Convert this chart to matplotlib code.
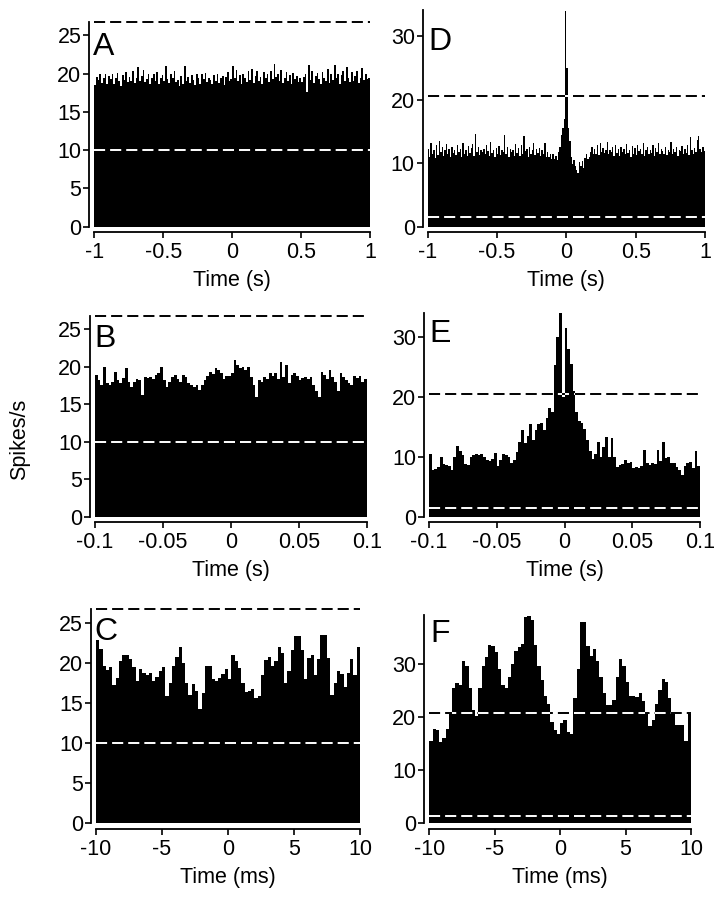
import numpy as np
import matplotlib
matplotlib.use("Agg")
import matplotlib.pyplot as plt

plt.rcParams['font.family'] = ['Liberation Sans', 'DejaVu Sans']
plt.rcParams['lines.scale_dashes'] = False

# ---------------- data ----------------
# Panel A: -1..1 s
a_range = (-1.0, 1.0)
a_vals = [18.5, 19.6, 19.2, 20.0, 18.8, 19.4, 19.9, 18.6, 19.7, 19.3,
          19.9, 18.7, 19.5, 20.1, 19.0, 18.4, 19.8, 19.2, 20.2, 18.9,
          19.6, 19.1, 20.3, 18.8, 19.4, 20.9, 19.0, 19.7, 20.5, 18.9,
          19.3, 20.0, 18.6, 19.5, 19.9, 19.1, 20.2, 18.7, 19.4, 19.8,
          19.0, 21.0, 19.3, 18.8, 19.9, 19.5, 20.3, 18.9, 19.2, 18.4,
          19.7, 18.6, 21.0, 19.1, 19.6, 18.8, 19.8, 19.2, 18.5, 19.9,
          19.4, 18.7, 19.9, 19.3, 20.1, 18.9, 19.5, 19.2, 18.6, 19.8,
          19.1, 20.0, 18.8, 19.4, 19.7, 18.5, 19.6, 20.2, 19.0, 19.3,
          21.0, 19.4, 20.5, 19.0, 19.8, 18.6, 20.0, 19.5, 18.9, 20.4,
          19.2, 20.6, 18.8, 19.7, 20.3, 19.0, 19.6, 18.7, 20.2, 19.4,
          19.9, 18.9, 20.4, 19.3, 21.3, 19.6, 20.0, 19.1, 20.5, 18.8,
          19.5, 20.2, 19.0, 19.8, 18.7, 20.1, 19.3, 19.7, 18.9, 19.4,
          18.9, 19.6, 20.0, 17.6, 21.2, 19.2, 20.4, 18.8, 19.7, 20.1,
          19.3, 18.6, 20.2, 19.5, 19.0, 20.6, 18.8, 19.9, 19.2, 21.1,
          19.4, 20.0, 18.7, 19.8, 20.3, 19.1, 20.9, 19.5, 18.9, 20.2,
          19.0, 19.7, 20.4, 18.8, 19.5, 20.8, 19.2, 19.9, 19.3, 19.5]

# Panel B: -0.1..0.1 s
b_range = (-0.1, 0.1)
b_vals = [18.9, 18.2, 17.5, 19.9, 17.8, 17.6, 18.0, 19.3, 18.2, 17.8,
          18.5, 19.8, 18.0, 17.3, 18.0, 18.4, 18.2, 16.2, 18.6, 18.5,
          18.6, 18.3, 18.9, 19.2, 20.0, 18.2, 17.3, 18.0, 18.6, 18.9,
          18.4, 18.0, 18.9, 18.6, 17.8, 17.6, 17.3, 17.6, 16.9, 17.5,
          18.2, 18.8, 19.3, 19.0, 19.8, 19.6, 19.1, 18.4, 18.7, 18.7,
          19.1, 20.9, 20.2, 19.8, 20.0, 19.6, 20.0, 18.6, 17.5, 16.0,
          18.2, 18.0, 18.6, 18.3, 19.1, 18.7, 19.1, 18.4, 20.6, 18.6,
          20.2, 17.8, 18.9, 19.1, 18.8, 18.2, 18.5, 18.6, 18.3, 18.6,
          17.6, 16.7, 16.0, 19.3, 18.9, 18.4, 19.5, 18.6, 18.0, 16.7,
          19.1, 18.6, 18.2, 17.8, 17.6, 18.7, 18.5, 18.8, 18.0, 18.3]

# Panel C: -10..10 ms
c_range = (-10.0, 10.0)
c_vals = [22.9, 21.8, 19.7, 19.2, 19.5, 17.3, 18.2, 20.3, 21.1, 21.0,
          20.6, 19.5, 17.8, 19.3, 18.8, 18.5, 18.8, 17.8, 18.3, 19.0,
          19.5, 15.9, 17.5, 19.6, 20.8, 22.1, 20.0, 17.5, 16.0, 17.4,
          16.5, 14.3, 16.3, 19.6, 19.6, 18.0, 17.8, 18.2, 18.6, 19.3,
          18.0, 21.0, 20.3, 19.4, 17.5, 16.4, 16.5, 16.8, 15.7, 15.9,
          18.5, 20.4, 20.8, 19.7, 20.3, 22.0, 21.3, 17.5, 19.0, 21.7,
          23.4, 23.4, 21.7, 18.0, 20.7, 21.0, 18.5, 20.5, 23.5, 23.5,
          20.7, 16.0, 17.5, 19.0, 18.7, 17.0, 18.8, 20.5, 18.5, 22.0]

# Panel D: -1..1 s
d_range = (-1.0, 1.0)
d_vals = [12.3, 11.0, 13.2, 11.5, 12.0, 10.8, 12.8, 11.3, 13.5, 11.8,
          12.5, 11.1, 12.0, 13.0, 11.4, 12.2, 10.9, 12.6, 11.6, 12.1,
          11.3, 12.8, 11.7, 12.3, 11.0, 13.1, 11.5, 12.0, 11.2, 12.7,
          11.6, 12.4, 13.0, 11.1, 14.6, 11.8, 12.5, 11.3, 12.1, 11.7,
          12.2, 11.4, 12.9, 11.9, 11.2, 13.3, 11.6, 12.0, 10.9, 12.4,
          11.5, 12.7, 11.3, 12.1, 11.8, 14.4, 11.4, 12.6, 11.0, 12.3,
          11.7, 12.0, 11.2, 13.0, 11.6, 12.4, 11.1, 12.8, 11.5, 14.2,
          11.9, 12.3, 11.0, 12.6, 11.4, 12.0, 13.1, 11.3, 12.2, 11.6,
          12.4, 11.2, 12.0, 11.5, 13.2, 11.0, 11.8, 10.9, 11.5, 10.7,
          11.4, 10.6, 11.2, 10.5, 11.8, 12.5, 14.5, 15.6, 17.0, 34.0,
          25.0, 15.5, 13.5, 11.0, 9.8, 10.5, 9.6, 9.0, 8.4, 10.2,
          9.5, 10.3, 9.2, 10.8, 11.4, 10.6, 11.0, 11.8, 12.5, 11.5,
          12.2, 11.5, 12.8, 11.3, 13.2, 11.8, 12.4, 11.6, 12.1, 13.3,
          11.4, 12.0, 11.7, 12.5, 11.2, 12.9, 11.6, 12.2, 11.1, 12.6,
          11.8, 12.3, 11.4, 13.0, 11.6, 12.1, 11.0, 12.7, 11.5, 12.4,
          11.3, 12.8, 11.9, 12.2, 11.5, 13.2, 11.2, 12.0, 12.6, 11.4,
          12.1, 11.6, 12.9, 11.2, 12.4, 11.8, 13.1, 11.5, 12.2, 11.9,
          11.5, 12.6, 11.3, 12.0, 11.8, 13.4, 11.4, 12.3, 11.7, 12.5,
          11.2, 12.1, 11.9, 12.7, 11.4, 12.2, 11.6, 12.8, 11.3, 14.1,
          12.0, 11.5, 12.4, 11.7, 13.6, 14.2, 12.2, 11.8, 12.6, 11.9]

# Panel E: -0.1..0.1 s
e_range = (-0.1, 0.1)
e_vals = [10.5, 7.8, 8.0, 8.3, 10.0, 8.8, 8.6, 8.4, 7.8, 10.0,
          11.8, 11.0, 10.3, 8.8, 8.6, 10.0, 10.3, 10.5, 10.3, 10.4,
          10.0, 9.4, 9.3, 9.6, 10.7, 8.5, 9.5, 10.5, 10.3, 10.0,
          9.0, 9.4, 10.8, 12.5, 14.4, 12.3, 13.5, 15.4, 12.8, 14.4,
          15.5, 15.6, 14.5, 16.5, 18.1, 17.5, 25.3, 30.0, 34.0, 20.0,
          31.4, 28.0, 25.5, 21.0, 17.5, 16.0, 15.6, 14.7, 12.8, 11.0,
          9.6, 10.5, 12.5, 10.0, 11.7, 13.3, 10.0, 13.2, 10.0, 8.3,
          8.6, 8.8, 9.4, 8.9, 9.2, 8.1, 8.3, 8.1, 8.4, 11.1,
          8.9, 8.7, 8.9, 8.8, 11.1, 9.3, 12.5, 9.8, 10.0, 9.0,
          8.9, 8.3, 7.8, 6.9, 8.5, 8.9, 9.2, 8.1, 11.0, 8.5]

# Panel F: -10..10 ms
f_range = (-10.0, 10.0)
f_vals = [15.5, 17.8, 17.5, 15.3, 16.0, 17.8, 20.5, 25.5, 26.4, 26.0,
          30.5, 29.5, 25.5, 21.3, 20.1, 25.5, 29.5, 31.3, 33.5, 33.3,
          32.2, 29.0, 26.0, 25.4, 27.5, 30.0, 32.5, 33.2, 33.8, 38.8,
          39.0, 38.3, 33.5, 29.5, 27.0, 24.0, 22.5, 19.0, 17.5, 16.8,
          18.8, 19.5, 17.2, 16.8, 23.5, 29.0, 37.8, 37.8, 33.3, 31.4,
          32.8, 30.5, 27.5, 24.5, 22.3, 22.3, 23.2, 27.5, 31.0, 29.5,
          26.5, 24.0, 23.9, 23.7, 24.5, 23.0, 20.5, 18.2, 19.5, 22.5,
          25.0, 27.2, 26.5, 23.5, 20.5, 18.5, 18.5, 18.5, 15.4, 20.5]

# significance lines (upper black, lower white) per panel
left_upper = 26.75
left_lower = 10.0
right_upper = [20.5, 20.5, 20.7]
right_lower = [1.5, 1.5, 1.4]

s_ticks = [-1, -0.5, 0, 0.5, 1]
s_ticklabels = ['-1', '-0.5', '0', '0.5', '1']
b_ticks = [-0.1, -0.05, 0, 0.05, 0.1]
b_ticklabels = ['-0.1', '-0.05', '0', '0.05', '0.1']
m_ticks = [-10, -5, 0, 5, 10]
m_ticklabels = ['-10', '-5', '0', '5', '10']
left_yticks = [0, 5, 10, 15, 20, 25]
right_yticks = [0, 10, 20, 30]

# ---------------- figure ----------------
W, H = 725, 899
fig = plt.figure(figsize=(W / 100, H / 100), dpi=100)


def px_axes(x0, x1, y0, y1):
    """x0,x1 data left/right px; y0 = px of y=0, y1 = px of ylim top"""
    return fig.add_axes([x0 / W, 1 - y0 / H, (x1 - x0) / W, (y0 - y1) / H])


DASH = (8.0, 3.6)
FS = 15.5


def panel(ax, vals, xr, ylim, yticks, xticks, xticklabels, xlabel,
          upper, lower, letter, letter_px):
    n = len(vals)
    edges = np.linspace(xr[0], xr[1], n + 1)
    patch = ax.stairs(vals, edges, fill=True, color='black', baseline=0,
                      zorder=2, linewidth=0)
    # upper line: black outside bars, white inside
    ax.plot(xr, [upper, upper], color='black', lw=1.4, dashes=DASH,
            zorder=1, clip_on=False)
    wl, = ax.plot(xr, [upper, upper], color='white', lw=1.4, dashes=DASH,
                  zorder=3)
    wl.set_clip_path(patch)
    wl2, = ax.plot(xr, [lower, lower], color='white', lw=1.4, dashes=DASH,
                   zorder=3)
    wl2.set_clip_path(patch)

    ax.set_xlim(xr)
    ax.set_ylim(ylim)
    ax.set_yticks(yticks)
    ax.set_yticklabels([str(t) for t in yticks])
    ax.set_xticks(xticks)
    ax.set_xticklabels(xticklabels)
    for s in ['top', 'right']:
        ax.spines[s].set_visible(False)
    ax.spines['left'].set_position(('outward', 3.5))
    ax.spines['bottom'].set_position(('outward', 4))
    for s in ['left', 'bottom']:
        ax.spines[s].set_linewidth(1.3)
    ax.tick_params(axis='both', direction='out', length=4.3, width=1.2,
                   labelsize=FS, pad=1.5)
    ax.tick_params(axis='x', pad=3)
    ax.set_xlabel(xlabel, fontsize=FS, labelpad=5)
    fig.text(letter_px[0] / W, 1 - letter_px[1] / H, letter, fontsize=23,
             va='baseline', ha='left')


axA = px_axes(94.3, 370, 226.7, 21.7)
axB = px_axes(95, 366.7, 516.7, 315.7)
axC = px_axes(96, 360, 823, 609)
axD = px_axes(427.7, 705, 226.7, 10)
axE = px_axes(429, 700, 516.7, 312.7)
axF = px_axes(429.3, 691, 823, 615)

panel(axA, a_vals, a_range, (0, 26.8), left_yticks, s_ticks, s_ticklabels,
      'Time (s)', left_upper, left_lower, 'A', (93, 55))
panel(axB, b_vals, b_range, (0, 26.8), left_yticks, b_ticks, b_ticklabels,
      'Time (s)', left_upper, left_lower, 'B', (94, 347))
panel(axC, c_vals, c_range, (0, 26.8), left_yticks, m_ticks, m_ticklabels,
      'Time (ms)', left_upper, left_lower, 'C', (94, 640))
panel(axD, d_vals, d_range, (0, 34.1), right_yticks, s_ticks, s_ticklabels,
      'Time (s)', right_upper[0], right_lower[0], 'D', (428, 50))
panel(axE, e_vals, e_range, (0, 34.0), right_yticks, b_ticks, b_ticklabels,
      'Time (s)', right_upper[1], right_lower[1], 'E', (429, 342))
panel(axF, f_vals, f_range, (0, 39.2), right_yticks, m_ticks, m_ticklabels,
      'Time (ms)', right_upper[2], right_lower[2], 'F', (430, 642))

fig.text(20 / W, 1 - 439 / H, 'Spikes/s', rotation=90, fontsize=FS,
         ha='center', va='center')

fig.savefig('out.png', dpi=100, facecolor='white')
